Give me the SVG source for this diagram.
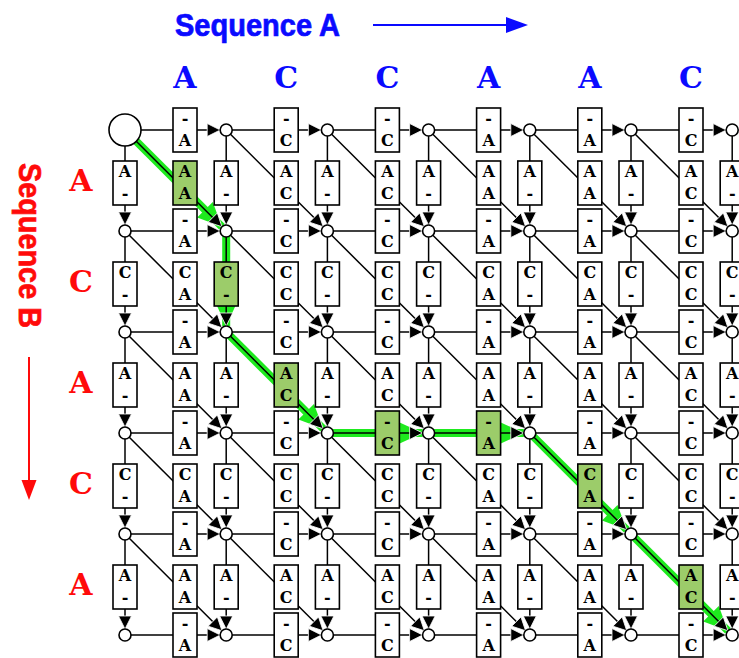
<svg xmlns="http://www.w3.org/2000/svg" width="739" height="658" viewBox="0 0 739 658">
<style>
.e{fill:none;stroke:#000;stroke-width:1.5;marker-end:url(#ah)}
.gp{fill:none;stroke:#1eea1e;stroke-width:8;marker-end:url(#gah)}
.bx rect{fill:#fff;stroke:#000;stroke-width:1.6}
.bx text{font-family:'DejaVu Serif','Liberation Serif',serif;font-size:16px;font-weight:bold;text-anchor:middle;fill:#000}
.bx .gb rect{fill:#9ccc6a}
.nd{fill:#fff;stroke:#000;stroke-width:1.6}
.hl{font-family:'DejaVu Serif','Liberation Serif',serif;font-size:30px;font-weight:bold;text-anchor:middle}
.ttl{font-family:'Liberation Sans',Arial,sans-serif;font-size:32px;font-weight:bold;stroke-width:0.7}
</style>
<defs>
<marker id="ah" markerUnits="userSpaceOnUse" markerWidth="15" markerHeight="15" refX="13" refY="6.5" orient="auto" overflow="visible"><path d="M0,0L13,6.5L0,13z" fill="#000" stroke="#fff" stroke-width="0.8"/></marker>
<marker id="gah" markerUnits="userSpaceOnUse" markerWidth="26" markerHeight="24" refX="24" refY="11" orient="auto" overflow="visible"><path d="M0,0L24,11L0,22z" fill="#1eea1e"/></marker>
</defs>

<g id="titles">
<text class="ttl" x="175" y="36" fill="#0a0aff" stroke="#0a0aff" textLength="165" lengthAdjust="spacingAndGlyphs">Sequence A</text>
<path d="M373 25H508" stroke="#0a0aff" stroke-width="2"/>
<path d="M506 17L528 25L506 33z" fill="#0a0aff"/>
<text class="ttl" transform="translate(19,163) rotate(90)" fill="#ff0a0a" stroke="#ff0a0a" textLength="165" lengthAdjust="spacingAndGlyphs">Sequence B</text>
<path d="M29 357V482" stroke="#ff0a0a" stroke-width="2"/>
<path d="M21.5 480L29 500L36.5 480z" fill="#ff0a0a"/>
</g>

<g id="seqA-letters" class="hl" fill="#0a0aff">
<text x="185" y="88">A</text><text x="286.2" y="88">C</text><text x="387.4" y="88">C</text><text x="488.6" y="88">A</text><text x="589.8" y="88">A</text><text x="691" y="88">C</text>
</g>
<g id="seqB-letters" class="hl" fill="#ff0a0a">
<text x="81" y="191">A</text><text x="81" y="292">C</text><text x="81" y="393">A</text><text x="81" y="494">C</text><text x="81" y="595">A</text>
</g>

<g id="green-path">
<path class="gp" d="M125 130L221.96 226.76"/>
<path class="gp" d="M226.2 231V326"/>
<path class="gp" d="M226.2 332L323.16 428.76"/>
<path class="gp" d="M327.4 433H422.6"/>
<path class="gp" d="M428.6 433H523.8"/>
<path class="gp" d="M529.8 433L626.76 529.76"/>
<path class="gp" d="M631 534L727.96 630.76"/>
</g>

<g id="connectors">
<path class="e" d="M140 130H220.2"/><path class="e" d="M226.2 130H321.4"/><path class="e" d="M327.4 130H422.6"/><path class="e" d="M428.6 130H523.8"/><path class="e" d="M529.8 130H625"/><path class="e" d="M631 130H726.2"/>
<path class="e" d="M125 231H220.2"/><path class="e" d="M226.2 231H321.4"/><path class="e" d="M327.4 231H422.6"/><path class="e" d="M428.6 231H523.8"/><path class="e" d="M529.8 231H625"/><path class="e" d="M631 231H726.2"/>
<path class="e" d="M125 332H220.2"/><path class="e" d="M226.2 332H321.4"/><path class="e" d="M327.4 332H422.6"/><path class="e" d="M428.6 332H523.8"/><path class="e" d="M529.8 332H625"/><path class="e" d="M631 332H726.2"/>
<path class="e" d="M125 433H220.2"/><path class="e" d="M226.2 433H321.4"/><path class="e" d="M327.4 433H422.6"/><path class="e" d="M428.6 433H523.8"/><path class="e" d="M529.8 433H625"/><path class="e" d="M631 433H726.2"/>
<path class="e" d="M125 534H220.2"/><path class="e" d="M226.2 534H321.4"/><path class="e" d="M327.4 534H422.6"/><path class="e" d="M428.6 534H523.8"/><path class="e" d="M529.8 534H625"/><path class="e" d="M631 534H726.2"/>
<path class="e" d="M125 635H220.2"/><path class="e" d="M226.2 635H321.4"/><path class="e" d="M327.4 635H422.6"/><path class="e" d="M428.6 635H523.8"/><path class="e" d="M529.8 635H625"/><path class="e" d="M631 635H726.2"/>

<path class="e" d="M125 145V225"/><path class="e" d="M125 231V326"/><path class="e" d="M125 332V427"/><path class="e" d="M125 433V528"/><path class="e" d="M125 534V629"/>
<path class="e" d="M226.2 130V225"/><path class="e" d="M226.2 231V326"/><path class="e" d="M226.2 332V427"/><path class="e" d="M226.2 433V528"/><path class="e" d="M226.2 534V629"/>
<path class="e" d="M327.4 130V225"/><path class="e" d="M327.4 231V326"/><path class="e" d="M327.4 332V427"/><path class="e" d="M327.4 433V528"/><path class="e" d="M327.4 534V629"/>
<path class="e" d="M428.6 130V225"/><path class="e" d="M428.6 231V326"/><path class="e" d="M428.6 332V427"/><path class="e" d="M428.6 433V528"/><path class="e" d="M428.6 534V629"/>
<path class="e" d="M529.8 130V225"/><path class="e" d="M529.8 231V326"/><path class="e" d="M529.8 332V427"/><path class="e" d="M529.8 433V528"/><path class="e" d="M529.8 534V629"/>
<path class="e" d="M631 130V225"/><path class="e" d="M631 231V326"/><path class="e" d="M631 332V427"/><path class="e" d="M631 433V528"/><path class="e" d="M631 534V629"/>
<path class="e" d="M732.2 130V225"/><path class="e" d="M732.2 231V326"/><path class="e" d="M732.2 332V427"/><path class="e" d="M732.2 433V528"/><path class="e" d="M732.2 534V629"/>

<path class="e" d="M136 141L221.96 226.76"/><path class="e" d="M226.2 130L323.16 226.76"/><path class="e" d="M327.4 130L424.36 226.76"/><path class="e" d="M428.6 130L525.56 226.76"/><path class="e" d="M529.8 130L626.76 226.76"/><path class="e" d="M631 130L727.96 226.76"/>
<path class="e" d="M125 231L221.96 327.76"/><path class="e" d="M226.2 231L323.16 327.76"/><path class="e" d="M327.4 231L424.36 327.76"/><path class="e" d="M428.6 231L525.56 327.76"/><path class="e" d="M529.8 231L626.76 327.76"/><path class="e" d="M631 231L727.96 327.76"/>
<path class="e" d="M125 332L221.96 428.76"/><path class="e" d="M226.2 332L323.16 428.76"/><path class="e" d="M327.4 332L424.36 428.76"/><path class="e" d="M428.6 332L525.56 428.76"/><path class="e" d="M529.8 332L626.76 428.76"/><path class="e" d="M631 332L727.96 428.76"/>
<path class="e" d="M125 433L221.96 529.76"/><path class="e" d="M226.2 433L323.16 529.76"/><path class="e" d="M327.4 433L424.36 529.76"/><path class="e" d="M428.6 433L525.56 529.76"/><path class="e" d="M529.8 433L626.76 529.76"/><path class="e" d="M631 433L727.96 529.76"/>
<path class="e" d="M125 534L221.96 630.76"/><path class="e" d="M226.2 534L323.16 630.76"/><path class="e" d="M327.4 534L424.36 630.76"/><path class="e" d="M428.6 534L525.56 630.76"/><path class="e" d="M529.8 534L626.76 630.76"/><path class="e" d="M631 534L727.96 630.76"/>
</g>

<g id="edge-labels" class="bx">
<!-- horizontal boxes -->
<g transform="translate(185,108)"><rect x="-12" width="24" height="44"/><text y="16">-</text><text y="38">A</text></g>
<g transform="translate(286.2,108)"><rect x="-12" width="24" height="44"/><text y="16">-</text><text y="38">C</text></g>
<g transform="translate(387.4,108)"><rect x="-12" width="24" height="44"/><text y="16">-</text><text y="38">C</text></g>
<g transform="translate(488.6,108)"><rect x="-12" width="24" height="44"/><text y="16">-</text><text y="38">A</text></g>
<g transform="translate(589.8,108)"><rect x="-12" width="24" height="44"/><text y="16">-</text><text y="38">A</text></g>
<g transform="translate(691,108)"><rect x="-12" width="24" height="44"/><text y="16">-</text><text y="38">C</text></g>

<g transform="translate(185,209)"><rect x="-12" width="24" height="44"/><text y="16">-</text><text y="38">A</text></g>
<g transform="translate(286.2,209)"><rect x="-12" width="24" height="44"/><text y="16">-</text><text y="38">C</text></g>
<g transform="translate(387.4,209)"><rect x="-12" width="24" height="44"/><text y="16">-</text><text y="38">C</text></g>
<g transform="translate(488.6,209)"><rect x="-12" width="24" height="44"/><text y="16">-</text><text y="38">A</text></g>
<g transform="translate(589.8,209)"><rect x="-12" width="24" height="44"/><text y="16">-</text><text y="38">A</text></g>
<g transform="translate(691,209)"><rect x="-12" width="24" height="44"/><text y="16">-</text><text y="38">C</text></g>

<g transform="translate(185,310)"><rect x="-12" width="24" height="44"/><text y="16">-</text><text y="38">A</text></g>
<g transform="translate(286.2,310)"><rect x="-12" width="24" height="44"/><text y="16">-</text><text y="38">C</text></g>
<g transform="translate(387.4,310)"><rect x="-12" width="24" height="44"/><text y="16">-</text><text y="38">C</text></g>
<g transform="translate(488.6,310)"><rect x="-12" width="24" height="44"/><text y="16">-</text><text y="38">A</text></g>
<g transform="translate(589.8,310)"><rect x="-12" width="24" height="44"/><text y="16">-</text><text y="38">A</text></g>
<g transform="translate(691,310)"><rect x="-12" width="24" height="44"/><text y="16">-</text><text y="38">C</text></g>

<g transform="translate(185,411)"><rect x="-12" width="24" height="44"/><text y="16">-</text><text y="38">A</text></g>
<g transform="translate(286.2,411)"><rect x="-12" width="24" height="44"/><text y="16">-</text><text y="38">C</text></g>
<g class="gb" transform="translate(387.4,411)"><rect x="-12" width="24" height="44"/><text y="16">-</text><text y="38">C</text></g>
<g class="gb" transform="translate(488.6,411)"><rect x="-12" width="24" height="44"/><text y="16">-</text><text y="38">A</text></g>
<g transform="translate(589.8,411)"><rect x="-12" width="24" height="44"/><text y="16">-</text><text y="38">A</text></g>
<g transform="translate(691,411)"><rect x="-12" width="24" height="44"/><text y="16">-</text><text y="38">C</text></g>

<g transform="translate(185,512)"><rect x="-12" width="24" height="44"/><text y="16">-</text><text y="38">A</text></g>
<g transform="translate(286.2,512)"><rect x="-12" width="24" height="44"/><text y="16">-</text><text y="38">C</text></g>
<g transform="translate(387.4,512)"><rect x="-12" width="24" height="44"/><text y="16">-</text><text y="38">C</text></g>
<g transform="translate(488.6,512)"><rect x="-12" width="24" height="44"/><text y="16">-</text><text y="38">A</text></g>
<g transform="translate(589.8,512)"><rect x="-12" width="24" height="44"/><text y="16">-</text><text y="38">A</text></g>
<g transform="translate(691,512)"><rect x="-12" width="24" height="44"/><text y="16">-</text><text y="38">C</text></g>

<g transform="translate(185,613)"><rect x="-12" width="24" height="44"/><text y="16">-</text><text y="38">A</text></g>
<g transform="translate(286.2,613)"><rect x="-12" width="24" height="44"/><text y="16">-</text><text y="38">C</text></g>
<g transform="translate(387.4,613)"><rect x="-12" width="24" height="44"/><text y="16">-</text><text y="38">C</text></g>
<g transform="translate(488.6,613)"><rect x="-12" width="24" height="44"/><text y="16">-</text><text y="38">A</text></g>
<g transform="translate(589.8,613)"><rect x="-12" width="24" height="44"/><text y="16">-</text><text y="38">A</text></g>
<g transform="translate(691,613)"><rect x="-12" width="24" height="44"/><text y="16">-</text><text y="38">C</text></g>

<!-- vertical boxes -->
<g transform="translate(125,161)"><rect x="-12" width="24" height="44"/><text y="16">A</text><text y="38">-</text></g>
<g transform="translate(125,262)"><rect x="-12" width="24" height="44"/><text y="16">C</text><text y="38">-</text></g>
<g transform="translate(125,363)"><rect x="-12" width="24" height="44"/><text y="16">A</text><text y="38">-</text></g>
<g transform="translate(125,464)"><rect x="-12" width="24" height="44"/><text y="16">C</text><text y="38">-</text></g>
<g transform="translate(125,565)"><rect x="-12" width="24" height="44"/><text y="16">A</text><text y="38">-</text></g>

<g transform="translate(226.2,161)"><rect x="-12" width="24" height="44"/><text y="16">A</text><text y="38">-</text></g>
<g class="gb" transform="translate(226.2,262)"><rect x="-12" width="24" height="44"/><text y="16">C</text><text y="38">-</text></g>
<g transform="translate(226.2,363)"><rect x="-12" width="24" height="44"/><text y="16">A</text><text y="38">-</text></g>
<g transform="translate(226.2,464)"><rect x="-12" width="24" height="44"/><text y="16">C</text><text y="38">-</text></g>
<g transform="translate(226.2,565)"><rect x="-12" width="24" height="44"/><text y="16">A</text><text y="38">-</text></g>

<g transform="translate(327.4,161)"><rect x="-12" width="24" height="44"/><text y="16">A</text><text y="38">-</text></g>
<g transform="translate(327.4,262)"><rect x="-12" width="24" height="44"/><text y="16">C</text><text y="38">-</text></g>
<g transform="translate(327.4,363)"><rect x="-12" width="24" height="44"/><text y="16">A</text><text y="38">-</text></g>
<g transform="translate(327.4,464)"><rect x="-12" width="24" height="44"/><text y="16">C</text><text y="38">-</text></g>
<g transform="translate(327.4,565)"><rect x="-12" width="24" height="44"/><text y="16">A</text><text y="38">-</text></g>

<g transform="translate(428.6,161)"><rect x="-12" width="24" height="44"/><text y="16">A</text><text y="38">-</text></g>
<g transform="translate(428.6,262)"><rect x="-12" width="24" height="44"/><text y="16">C</text><text y="38">-</text></g>
<g transform="translate(428.6,363)"><rect x="-12" width="24" height="44"/><text y="16">A</text><text y="38">-</text></g>
<g transform="translate(428.6,464)"><rect x="-12" width="24" height="44"/><text y="16">C</text><text y="38">-</text></g>
<g transform="translate(428.6,565)"><rect x="-12" width="24" height="44"/><text y="16">A</text><text y="38">-</text></g>

<g transform="translate(529.8,161)"><rect x="-12" width="24" height="44"/><text y="16">A</text><text y="38">-</text></g>
<g transform="translate(529.8,262)"><rect x="-12" width="24" height="44"/><text y="16">C</text><text y="38">-</text></g>
<g transform="translate(529.8,363)"><rect x="-12" width="24" height="44"/><text y="16">A</text><text y="38">-</text></g>
<g transform="translate(529.8,464)"><rect x="-12" width="24" height="44"/><text y="16">C</text><text y="38">-</text></g>
<g transform="translate(529.8,565)"><rect x="-12" width="24" height="44"/><text y="16">A</text><text y="38">-</text></g>

<g transform="translate(631,161)"><rect x="-12" width="24" height="44"/><text y="16">A</text><text y="38">-</text></g>
<g transform="translate(631,262)"><rect x="-12" width="24" height="44"/><text y="16">C</text><text y="38">-</text></g>
<g transform="translate(631,363)"><rect x="-12" width="24" height="44"/><text y="16">A</text><text y="38">-</text></g>
<g transform="translate(631,464)"><rect x="-12" width="24" height="44"/><text y="16">C</text><text y="38">-</text></g>
<g transform="translate(631,565)"><rect x="-12" width="24" height="44"/><text y="16">A</text><text y="38">-</text></g>

<g transform="translate(732.2,161)"><rect x="-12" width="24" height="44"/><text y="16">A</text><text y="38">-</text></g>
<g transform="translate(732.2,262)"><rect x="-12" width="24" height="44"/><text y="16">C</text><text y="38">-</text></g>
<g transform="translate(732.2,363)"><rect x="-12" width="24" height="44"/><text y="16">A</text><text y="38">-</text></g>
<g transform="translate(732.2,464)"><rect x="-12" width="24" height="44"/><text y="16">C</text><text y="38">-</text></g>
<g transform="translate(732.2,565)"><rect x="-12" width="24" height="44"/><text y="16">A</text><text y="38">-</text></g>

<!-- diagonal boxes -->
<g class="gb" transform="translate(185,161)"><rect x="-12" width="24" height="44"/><text y="16">A</text><text y="38">A</text></g>
<g transform="translate(286.2,161)"><rect x="-12" width="24" height="44"/><text y="16">A</text><text y="38">C</text></g>
<g transform="translate(387.4,161)"><rect x="-12" width="24" height="44"/><text y="16">A</text><text y="38">C</text></g>
<g transform="translate(488.6,161)"><rect x="-12" width="24" height="44"/><text y="16">A</text><text y="38">A</text></g>
<g transform="translate(589.8,161)"><rect x="-12" width="24" height="44"/><text y="16">A</text><text y="38">A</text></g>
<g transform="translate(691,161)"><rect x="-12" width="24" height="44"/><text y="16">A</text><text y="38">C</text></g>

<g transform="translate(185,262)"><rect x="-12" width="24" height="44"/><text y="16">C</text><text y="38">A</text></g>
<g transform="translate(286.2,262)"><rect x="-12" width="24" height="44"/><text y="16">C</text><text y="38">C</text></g>
<g transform="translate(387.4,262)"><rect x="-12" width="24" height="44"/><text y="16">C</text><text y="38">C</text></g>
<g transform="translate(488.6,262)"><rect x="-12" width="24" height="44"/><text y="16">C</text><text y="38">A</text></g>
<g transform="translate(589.8,262)"><rect x="-12" width="24" height="44"/><text y="16">C</text><text y="38">A</text></g>
<g transform="translate(691,262)"><rect x="-12" width="24" height="44"/><text y="16">C</text><text y="38">C</text></g>

<g transform="translate(185,363)"><rect x="-12" width="24" height="44"/><text y="16">A</text><text y="38">A</text></g>
<g class="gb" transform="translate(286.2,363)"><rect x="-12" width="24" height="44"/><text y="16">A</text><text y="38">C</text></g>
<g transform="translate(387.4,363)"><rect x="-12" width="24" height="44"/><text y="16">A</text><text y="38">C</text></g>
<g transform="translate(488.6,363)"><rect x="-12" width="24" height="44"/><text y="16">A</text><text y="38">A</text></g>
<g transform="translate(589.8,363)"><rect x="-12" width="24" height="44"/><text y="16">A</text><text y="38">A</text></g>
<g transform="translate(691,363)"><rect x="-12" width="24" height="44"/><text y="16">A</text><text y="38">C</text></g>

<g transform="translate(185,464)"><rect x="-12" width="24" height="44"/><text y="16">C</text><text y="38">A</text></g>
<g transform="translate(286.2,464)"><rect x="-12" width="24" height="44"/><text y="16">C</text><text y="38">C</text></g>
<g transform="translate(387.4,464)"><rect x="-12" width="24" height="44"/><text y="16">C</text><text y="38">C</text></g>
<g transform="translate(488.6,464)"><rect x="-12" width="24" height="44"/><text y="16">C</text><text y="38">A</text></g>
<g class="gb" transform="translate(589.8,464)"><rect x="-12" width="24" height="44"/><text y="16">C</text><text y="38">A</text></g>
<g transform="translate(691,464)"><rect x="-12" width="24" height="44"/><text y="16">C</text><text y="38">C</text></g>

<g transform="translate(185,565)"><rect x="-12" width="24" height="44"/><text y="16">A</text><text y="38">A</text></g>
<g transform="translate(286.2,565)"><rect x="-12" width="24" height="44"/><text y="16">A</text><text y="38">C</text></g>
<g transform="translate(387.4,565)"><rect x="-12" width="24" height="44"/><text y="16">A</text><text y="38">C</text></g>
<g transform="translate(488.6,565)"><rect x="-12" width="24" height="44"/><text y="16">A</text><text y="38">A</text></g>
<g transform="translate(589.8,565)"><rect x="-12" width="24" height="44"/><text y="16">A</text><text y="38">A</text></g>
<g class="gb" transform="translate(691,565)"><rect x="-12" width="24" height="44"/><text y="16">A</text><text y="38">C</text></g>
</g>

<g id="nodes" class="nd">
<g id="n0_0"><circle cx="125" cy="130" r="16"/></g>
<g id="n1_0"><circle cx="226.2" cy="130" r="6"/></g><g id="n2_0"><circle cx="327.4" cy="130" r="6"/></g><g id="n3_0"><circle cx="428.6" cy="130" r="6"/></g><g id="n4_0"><circle cx="529.8" cy="130" r="6"/></g><g id="n5_0"><circle cx="631" cy="130" r="6"/></g><g id="n6_0"><circle cx="732.2" cy="130" r="6"/></g>
<g id="n0_1"><circle cx="125" cy="231" r="6"/></g><g id="n1_1"><circle cx="226.2" cy="231" r="6"/></g><g id="n2_1"><circle cx="327.4" cy="231" r="6"/></g><g id="n3_1"><circle cx="428.6" cy="231" r="6"/></g><g id="n4_1"><circle cx="529.8" cy="231" r="6"/></g><g id="n5_1"><circle cx="631" cy="231" r="6"/></g><g id="n6_1"><circle cx="732.2" cy="231" r="6"/></g>
<g id="n0_2"><circle cx="125" cy="332" r="6"/></g><g id="n1_2"><circle cx="226.2" cy="332" r="6"/></g><g id="n2_2"><circle cx="327.4" cy="332" r="6"/></g><g id="n3_2"><circle cx="428.6" cy="332" r="6"/></g><g id="n4_2"><circle cx="529.8" cy="332" r="6"/></g><g id="n5_2"><circle cx="631" cy="332" r="6"/></g><g id="n6_2"><circle cx="732.2" cy="332" r="6"/></g>
<g id="n0_3"><circle cx="125" cy="433" r="6"/></g><g id="n1_3"><circle cx="226.2" cy="433" r="6"/></g><g id="n2_3"><circle cx="327.4" cy="433" r="6"/></g><g id="n3_3"><circle cx="428.6" cy="433" r="6"/></g><g id="n4_3"><circle cx="529.8" cy="433" r="6"/></g><g id="n5_3"><circle cx="631" cy="433" r="6"/></g><g id="n6_3"><circle cx="732.2" cy="433" r="6"/></g>
<g id="n0_4"><circle cx="125" cy="534" r="6"/></g><g id="n1_4"><circle cx="226.2" cy="534" r="6"/></g><g id="n2_4"><circle cx="327.4" cy="534" r="6"/></g><g id="n3_4"><circle cx="428.6" cy="534" r="6"/></g><g id="n4_4"><circle cx="529.8" cy="534" r="6"/></g><g id="n5_4"><circle cx="631" cy="534" r="6"/></g><g id="n6_4"><circle cx="732.2" cy="534" r="6"/></g>
<g id="n0_5"><circle cx="125" cy="635" r="6"/></g><g id="n1_5"><circle cx="226.2" cy="635" r="6"/></g><g id="n2_5"><circle cx="327.4" cy="635" r="6"/></g><g id="n3_5"><circle cx="428.6" cy="635" r="6"/></g><g id="n4_5"><circle cx="529.8" cy="635" r="6"/></g><g id="n5_5"><circle cx="631" cy="635" r="6"/></g><g id="n6_5"><circle cx="732.2" cy="635" r="6"/></g>
</g>
</svg>
